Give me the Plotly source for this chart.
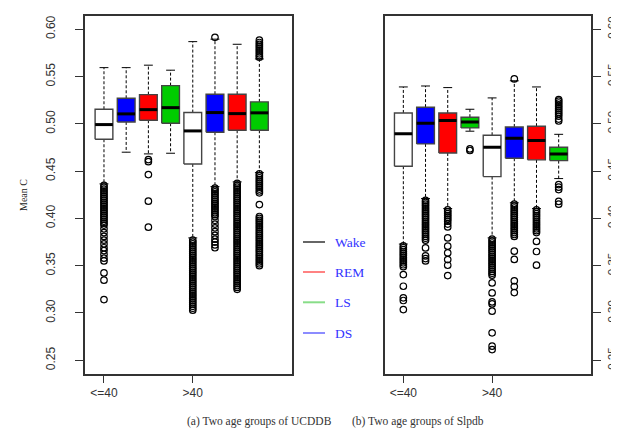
import plotly.graph_objects as go

# ---------------- data ----------------
groups = ["<=40", ">40"]
stages = ["Wake", "REM", "LS", "DS"]
y_ticks = [0.25, 0.30, 0.35, 0.40, 0.45, 0.50, 0.55, 0.60]
y_tick_labels = ["0.25", "0.30", "0.35", "0.40", "0.45", "0.50", "0.55", "0.60"]

# UCDDB: 8 boxes (<=40 x 4 stages, >40 x 4 stages)
ucddb_lo = [0.4365, 0.4700, 0.4682, 0.4689, 0.3794, 0.4336, 0.4386, 0.4484]
ucddb_q1 = [0.4837, 0.5020, 0.5038, 0.5006, 0.4576, 0.4911, 0.4932, 0.4932]
ucddb_med = [0.4992, 0.5105, 0.5150, 0.5171, 0.4925, 0.5119, 0.5108, 0.5116]
ucddb_q3 = [0.5154, 0.5270, 0.5309, 0.5404, 0.5119, 0.5313, 0.5313, 0.5232]
ucddb_hi = [0.5594, 0.5594, 0.5620, 0.5567, 0.5869, 0.5895, 0.5841, 0.5686]
ucddb_out = [
    [0.435, 0.433, 0.431, 0.429, 0.427, 0.425, 0.423, 0.421, 0.419, 0.417, 0.415,
     0.413, 0.411, 0.409, 0.407, 0.405, 0.403, 0.401, 0.399, 0.397, 0.395, 0.393,
     0.389, 0.385, 0.381, 0.377, 0.373, 0.369, 0.366, 0.362, 0.358, 0.355,
     0.3424, 0.3347, 0.3142],
    [],
    [0.4622, 0.4600, 0.4463, 0.4182, 0.3907],
    [],
    [0.377, 0.375, 0.373, 0.371, 0.369, 0.367, 0.365, 0.363, 0.361, 0.359, 0.357,
     0.355, 0.353, 0.351, 0.349, 0.347, 0.345, 0.343, 0.341, 0.339, 0.337, 0.335,
     0.333, 0.331, 0.329, 0.327, 0.325, 0.323, 0.321, 0.319, 0.317, 0.315, 0.313,
     0.311, 0.309, 0.307, 0.305, 0.303],
    [0.5915,
     0.432, 0.430, 0.428, 0.426, 0.424, 0.422, 0.420, 0.418, 0.416, 0.414, 0.412,
     0.410, 0.408, 0.406, 0.404, 0.402, 0.398, 0.394, 0.390, 0.386, 0.382, 0.378,
     0.375, 0.372, 0.369],
    [0.437, 0.435, 0.433, 0.431, 0.429, 0.427, 0.425, 0.423, 0.421, 0.419, 0.417,
     0.415, 0.413, 0.411, 0.409, 0.407, 0.405, 0.403, 0.401, 0.399, 0.397, 0.395,
     0.393, 0.391, 0.389, 0.387, 0.385, 0.383, 0.381, 0.379, 0.377, 0.375, 0.373,
     0.371, 0.369, 0.367, 0.365, 0.363, 0.361, 0.359, 0.357, 0.355, 0.353, 0.351,
     0.349, 0.347, 0.345, 0.343, 0.341, 0.339, 0.337, 0.335, 0.333, 0.331, 0.329,
     0.327, 0.325],
    [0.5884, 0.5860, 0.5840, 0.5820, 0.5800, 0.5780, 0.5760, 0.5740, 0.5720, 0.5705,
     0.447, 0.445, 0.443, 0.441, 0.439, 0.437, 0.435, 0.433, 0.431, 0.429, 0.427,
     0.4146,
     0.402, 0.400, 0.398, 0.396, 0.394, 0.392, 0.390, 0.388, 0.386, 0.384, 0.382,
     0.380, 0.378, 0.376, 0.374, 0.372, 0.370, 0.368, 0.366, 0.364, 0.362, 0.360,
     0.358, 0.356, 0.354, 0.352, 0.350],
]

# Slpdb
slpdb_lo = [0.3729, 0.4210, 0.4104, 0.4922, 0.3794, 0.4165, 0.4104, 0.4421]
slpdb_q1 = [0.4552, 0.4788, 0.4692, 0.4957, 0.4442, 0.4636, 0.4619, 0.4611]
slpdb_med = [0.4896, 0.5006, 0.5034, 0.5020, 0.4752, 0.4848, 0.4824, 0.4680]
slpdb_q3 = [0.5115, 0.5176, 0.5115, 0.5070, 0.4879, 0.4967, 0.4975, 0.4752]
slpdb_hi = [0.5390, 0.5400, 0.5383, 0.5154, 0.5274, 0.5455, 0.5390, 0.4889]
slpdb_out = [
    [0.371, 0.369, 0.367, 0.365, 0.363, 0.361, 0.359, 0.357, 0.355, 0.353, 0.351,
     0.349, 0.3406, 0.3283, 0.3160, 0.3132, 0.3036],
    [0.419, 0.417, 0.415, 0.413, 0.411, 0.409, 0.407, 0.405, 0.403, 0.401, 0.399,
     0.397, 0.395, 0.393, 0.391, 0.389, 0.387, 0.385, 0.383, 0.381, 0.379, 0.377,
     0.3688, 0.3603, 0.3575, 0.3550],
    [0.409, 0.407, 0.405, 0.403, 0.401, 0.399, 0.397, 0.394, 0.391, 0.3794,
     0.3706, 0.3635, 0.3565, 0.3505, 0.3396],
    [0.4735, 0.4718],
    [0.378, 0.376, 0.374, 0.372, 0.370, 0.368, 0.366, 0.364, 0.362, 0.360, 0.358,
     0.356, 0.354, 0.352, 0.350, 0.348, 0.346, 0.344, 0.342, 0.340,
     0.3318, 0.3212, 0.3117, 0.3096, 0.3019, 0.2790, 0.2649, 0.2613],
    [0.5475,
     0.415, 0.413, 0.411, 0.409, 0.407, 0.405, 0.403, 0.401, 0.399, 0.397, 0.395,
     0.393, 0.391, 0.389, 0.387, 0.385, 0.383, 0.381, 0.3654, 0.3566, 0.3340,
     0.3280, 0.3216],
    [0.409, 0.407, 0.405, 0.403, 0.401, 0.399, 0.397, 0.395, 0.393, 0.391, 0.389,
     0.387, 0.385, 0.3757, 0.3650, 0.3506],
    [0.5256, 0.524, 0.522, 0.520, 0.518, 0.516, 0.514, 0.512, 0.510, 0.508, 0.505,
     0.503, 0.4358, 0.4330, 0.4305, 0.4180, 0.4150],
]

legend_labels = ["Wake", "REM", "LS", "DS"]

# ---------------- style ----------------
box_fill = ["white", "#0000ff", "#ff0000", "#00cc00"]
legend_line_colors = ["#000000", "#ff3030", "#88dd88", "#4040ff"]
W, H = 619, 430
BOX_HALF = 0.4
CAP_HALF = 0.2

fig = go.Figure()


def add_panel(lo, q1, med, q3, hi, outs, xa, ya):
    n_stage = len(stages)
    for i in range(len(med)):
        p = (i // n_stage) * n_stage + (i % n_stage) + 1
        fig.add_trace(go.Scatter(
            x=[p, p, None, p, p], y=[q3[i], hi[i], None, q1[i], lo[i]],
            mode="lines", line=dict(color="black", width=1, dash="3px,2px"),
            xaxis=xa, yaxis=ya, showlegend=False, hoverinfo="skip"))
        fig.add_trace(go.Scatter(
            x=[p - CAP_HALF, p + CAP_HALF, None, p - CAP_HALF, p + CAP_HALF],
            y=[hi[i], hi[i], None, lo[i], lo[i]],
            mode="lines", line=dict(color="black", width=1),
            xaxis=xa, yaxis=ya, showlegend=False, hoverinfo="skip"))
        fig.add_trace(go.Scatter(
            x=[p - BOX_HALF, p + BOX_HALF, p + BOX_HALF, p - BOX_HALF, p - BOX_HALF],
            y=[q1[i], q1[i], q3[i], q3[i], q1[i]],
            mode="lines", fill="toself", fillcolor=box_fill[i % n_stage],
            line=dict(color="#444444", width=1.4),
            xaxis=xa, yaxis=ya, showlegend=False, hoverinfo="skip"))
        fig.add_trace(go.Scatter(
            x=[p - BOX_HALF, p + BOX_HALF], y=[med[i], med[i]],
            mode="lines", line=dict(color="black", width=3),
            xaxis=xa, yaxis=ya, showlegend=False, hoverinfo="skip"))
        if outs[i]:
            fig.add_trace(go.Scatter(
                x=[p] * len(outs[i]), y=outs[i], mode="markers",
                marker=dict(symbol="circle-open", size=6.5, color="black",
                            line=dict(width=1.2)),
                xaxis=xa, yaxis=ya, showlegend=False, hoverinfo="skip"))


add_panel(ucddb_lo, ucddb_q1, ucddb_med, ucddb_q3, ucddb_hi, ucddb_out, "x", "y")
add_panel(slpdb_lo, slpdb_q1, slpdb_med, slpdb_q3, slpdb_hi, slpdb_out, "x2", "y2")

tick_font = dict(family="Liberation Sans", size=12, color="#333333")
frame = dict(showline=True, mirror=True, linecolor="#333333", linewidth=1.5,
             showgrid=False, zeroline=False, ticks="outside", tickcolor="#333333",
             tickwidth=1.2)

y_dom = [1 - 366 / H, 1 - 8 / H]
y_range = [0.2355, 0.614]

fig.update_layout(
    width=W, height=H, autosize=False,
    margin=dict(l=0, r=0, t=0, b=0),
    paper_bgcolor="white", plot_bgcolor="white",
    showlegend=False,
    xaxis=dict(domain=[77 / W, 284 / W], range=[0.145, 9.47], anchor="y",
               tickvals=[1, 5], ticktext=groups, ticklen=7, tickfont=tick_font,
               ticklabelstandoff=0, **frame),
    yaxis=dict(domain=y_dom, range=y_range, anchor="x",
               tickvals=y_ticks, ticktext=y_tick_labels, tickangle=-90, ticklen=8,
               tickfont=tick_font, ticklabelstandoff=15, **frame),
    xaxis2=dict(domain=[376.7 / W, 583.3 / W], range=[0.16, 9.47], anchor="y2",
                tickvals=[1, 5], ticktext=groups, ticklen=7, tickfont=tick_font,
                ticklabelstandoff=0, **frame),
    yaxis2=dict(domain=y_dom, range=y_range, anchor="x2", side="right",
                tickvals=y_ticks, ticktext=y_tick_labels, tickangle=-90, ticklen=8,
                tickfont=dict(family="Liberation Sans", size=11.5, color="#333333"),
                ticklabelstandoff=1, **frame),
)

serif = "Liberation Serif, Times New Roman, Times, serif"
fig.add_annotation(text="Mean C", x=15 / W, y=1 - 187 / H, xref="paper", yref="paper",
                   xanchor="center", showarrow=False, textangle=-90,
                   font=dict(family=serif, size=10, color="#222222"))
fig.add_annotation(text="(a) Two age groups of UCDDB", x=177 / W, y=1 - 422 / H,
                   xref="paper", yref="paper", showarrow=False,
                   font=dict(family=serif, size=11.5, color="#333333"))
fig.add_annotation(text="(b) Two age groups of Slpdb", x=478 / W, y=1 - 422 / H,
                   xref="paper", yref="paper", showarrow=False,
                   font=dict(family=serif, size=11.5, color="#333333"))

legend_y = [234, 264, 294.3, 325]
for lab, col, yy in zip(legend_labels, legend_line_colors, legend_y):
    fig.add_shape(type="line", xref="paper", yref="paper",
                  x0=295 / W, x1=317 / W, y0=1 - yy / H, y1=1 - yy / H,
                  line=dict(color=col, width=1.2 if col != "#88dd88" else 2))
    fig.add_annotation(text=lab, x=325 / W, y=1 - yy / H, xref="paper", yref="paper",
                       xanchor="left", yanchor="middle", showarrow=False,
                       font=dict(family=serif, size=13.5, color="#3333ff"))

fig.write_html("out.html")
